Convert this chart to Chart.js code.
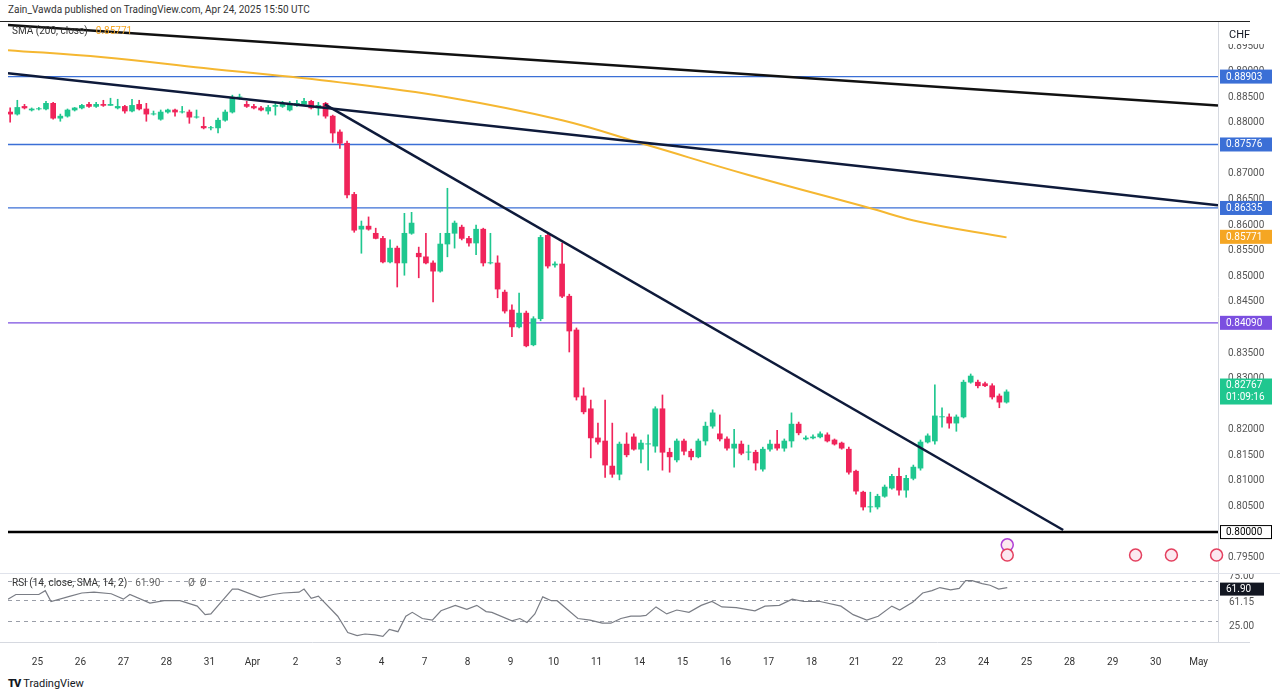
<!DOCTYPE html>
<html>
<head>
<meta charset="utf-8">
<script src="https://cdn.jsdelivr.net/npm/chart.js@4.4.1/dist/chart.umd.min.js"></script>
<style>
  body { margin: 0; background: #fff; font-family: Roboto, "DejaVu Sans", sans-serif; }
  #wrap { position: relative; width: 1280px; height: 698px; overflow: hidden; }
  #head { position: absolute; left: 8px; top: 4px; font-size: 10px; color: #333; }
  #topRule { position: absolute; left: 0; top: 21px; width: 1250px; height: 1px; background: #222; }
  #priceBox { position: absolute; left: 0; top: 22px; width: 1280px; height: 551px; }
  #rsiBox { position: absolute; left: 0; top: 573px; width: 1280px; height: 100px; border-top: 1px solid #e0e3eb; }
  #logo { position: absolute; left: 8px; top: 677px; font-size: 11px; color: #131722; }
  #logo b { font-weight: 900; letter-spacing: -1px; margin-right: 3px; }
</style>
</head>
<body>
<div id="wrap">
  <div id="head">Zain_Vawda published on TradingView.com, Apr 24, 2025 15:50 UTC</div>
  <div id="topRule"></div>
  <div id="priceBox"><canvas id="priceChart"></canvas></div>
  <div id="rsiBox"><canvas id="rsiChart"></canvas></div>
  <div id="logo"><b>TV</b>TradingView</div>
</div>
<script>
// 4h candles, USD/CHF, Mar 24 - Apr 24 2025
const opens = [
  0.8821,0.8817,0.8832,0.8825,0.8827,0.8827,0.8838,0.8809,0.8813,0.8825,
  0.8829,0.8836,0.8832,0.8836,0.8834,0.8829,0.8832,0.8823,0.8836,0.8827,
  0.8817,0.8807,0.8821,0.8825,0.8821,0.8821,0.8811,0.8793,0.8790,0.8790,
  0.8805,0.8821,0.8850,0.8836,0.8832,0.8829,0.8823,0.8832,0.8832,0.8825,
  0.8834,0.8836,0.8842,0.8829,0.8838,0.8813,0.8782,0.8760,0.8660,0.8592,
  0.8598,0.8584,0.8574,0.8528,0.8555,0.8526,0.8584,0.8545,0.8538,0.8526,
  0.8510,0.8563,0.8584,0.8596,0.8574,0.8565,0.8592,0.8526,0.8526,0.8469,
  0.8434,0.8401,0.8428,0.8366,0.8417,0.8580,0.8522,0.8524,0.8461,0.8395,
  0.8266,0.8241,0.8184,0.8178,0.8129,0.8113,0.8172,0.8186,0.8162,0.8172,
  0.8168,0.8241,0.8156,0.8141,0.8178,0.8158,0.8147,0.8178,0.8207,0.8192,
  0.8182,0.8164,0.8172,0.8156,0.8156,0.8123,0.8162,0.8172,0.8164,0.8178,
  0.8211,0.8182,0.8184,0.8186,0.8190,0.8180,0.8174,0.8162,0.8119,0.8078,
  0.8049,0.8049,0.8070,0.8086,0.8109,0.8082,0.8105,0.8125,0.8176,0.8178,
  0.8225,0.8225,0.8213,0.8225,0.8293,0.8293,0.8290,0.8286,0.8266,0.8254
];
const closes = [
  0.8817,0.8830,0.8829,0.8827,0.8827,0.8838,0.8809,0.8813,0.8825,0.8829,
  0.8834,0.8832,0.8836,0.8834,0.8836,0.8832,0.8823,0.8834,0.8827,0.8817,
  0.8817,0.8821,0.8825,0.8821,0.8821,0.8811,0.8811,0.8790,0.8790,0.8805,
  0.8821,0.8850,0.8850,0.8832,0.8829,0.8825,0.8830,0.8834,0.8838,0.8836,
  0.8838,0.8842,0.8829,0.8834,0.8813,0.8780,0.8760,0.8659,0.8590,0.8598,
  0.8592,0.8574,0.8528,0.8555,0.8526,0.8584,0.8604,0.8538,0.8526,0.8510,
  0.8563,0.8584,0.8604,0.8574,0.8565,0.8592,0.8526,0.8526,0.8475,0.8432,
  0.8401,0.8428,0.8364,0.8417,0.8576,0.8520,0.8524,0.8461,0.8393,0.8264,
  0.8235,0.8184,0.8176,0.8131,0.8113,0.8172,0.8151,0.8162,0.8174,0.8172,
  0.8241,0.8156,0.8147,0.8178,0.8158,0.8147,0.8178,0.8207,0.8233,0.8182,
  0.8164,0.8172,0.8154,0.8156,0.8135,0.8162,0.8172,0.8164,0.8178,0.8211,
  0.8194,0.8184,0.8186,0.8192,0.8178,0.8172,0.8164,0.8117,0.8080,0.8049,
  0.8049,0.8070,0.8088,0.8109,0.8082,0.8105,0.8127,0.8176,0.8188,0.8227,
  0.8225,0.8213,0.8225,0.8293,0.8305,0.8286,0.8286,0.8264,0.8254,0.8274
];
const highs = [
  0.8829,0.8844,0.8836,0.8829,0.8830,0.8842,0.8840,0.8817,0.8827,0.8830,
  0.8836,0.8840,0.8840,0.8844,0.8848,0.8846,0.8834,0.8846,0.8844,0.8838,
  0.8823,0.8825,0.8827,0.8827,0.8832,0.8825,0.8825,0.8811,0.8793,0.8809,
  0.8825,0.8854,0.8856,0.8842,0.8836,0.8832,0.8834,0.8840,0.8842,0.8842,
  0.8844,0.8848,0.8844,0.8840,0.8840,0.8815,0.8786,0.8764,0.8664,0.8608,
  0.8616,0.8594,0.8578,0.8571,0.8559,0.8623,0.8625,0.8557,0.8584,0.8530,
  0.8584,0.8672,0.8608,0.8600,0.8578,0.8600,0.8594,0.8584,0.8540,0.8473,
  0.8444,0.8467,0.8432,0.8421,0.8580,0.8584,0.8528,0.8565,0.8465,0.8399,
  0.8282,0.8258,0.8213,0.8258,0.8213,0.8176,0.8194,0.8192,0.8180,0.8190,
  0.8245,0.8268,0.8164,0.8182,0.8182,0.8162,0.8182,0.8215,0.8239,0.8229,
  0.8186,0.8201,0.8178,0.8170,0.8160,0.8166,0.8180,0.8199,0.8182,0.8233,
  0.8215,0.8188,0.8190,0.8196,0.8194,0.8182,0.8176,0.8166,0.8121,0.8080,
  0.8078,0.8074,0.8092,0.8113,0.8125,0.8111,0.8131,0.8180,0.8192,0.8288,
  0.8243,0.8231,0.8229,0.8297,0.8309,0.8297,0.8293,0.8290,0.8270,0.8278
];
const lows = [
  0.8801,0.8815,0.8827,0.8823,0.8825,0.8825,0.8807,0.8803,0.8811,0.8823,
  0.8827,0.8830,0.8830,0.8832,0.8834,0.8827,0.8819,0.8821,0.8825,0.8803,
  0.8815,0.8805,0.8819,0.8813,0.8819,0.8799,0.8809,0.8788,0.8786,0.8780,
  0.8803,0.8819,0.8846,0.8830,0.8827,0.8823,0.8817,0.8815,0.8830,0.8823,
  0.8832,0.8834,0.8827,0.8815,0.8809,0.8762,0.8750,0.8653,0.8586,0.8545,
  0.8590,0.8573,0.8526,0.8526,0.8479,0.8502,0.8582,0.8497,0.8524,0.8450,
  0.8508,0.8538,0.8555,0.8571,0.8559,0.8542,0.8520,0.8524,0.8458,0.8428,
  0.8382,0.8399,0.8362,0.8364,0.8413,0.8516,0.8518,0.8458,0.8352,0.8258,
  0.8231,0.8145,0.8172,0.8107,0.8107,0.8102,0.8147,0.8160,0.8135,0.8121,
  0.8156,0.8121,0.8117,0.8137,0.8151,0.8141,0.8145,0.8170,0.8203,0.8178,
  0.8160,0.8127,0.8151,0.8141,0.8121,0.8119,0.8158,0.8160,0.8158,0.8166,
  0.8190,0.8180,0.8182,0.8184,0.8176,0.8170,0.8162,0.8113,0.8074,0.8043,
  0.8039,0.8045,0.8068,0.8084,0.8072,0.8068,0.8102,0.8121,0.8174,0.8172,
  0.8205,0.8203,0.8197,0.8223,0.8291,0.8282,0.8284,0.8260,0.8243,0.8252
];

const smaIdx = [-0.3, 13, 27, 46, 61, 77, 89, 103, 120, 127, 139];
const smaVal = [0.8942, 0.8928, 0.8907, 0.8879, 0.8850, 0.8805, 0.8756, 0.8698, 0.8633, 0.8606, 0.8576];

// RSI(14)
const rsiIdx = [-0.3,0.8,4.0,4.9,5.7,8.4,10.0,11.7,14.1,15.8,16.7,19.5,21.5,23.7,26.1,27.2,28.0,31.0,31.8,34.9,
  36.7,38.1,40.3,41.0,42.0,43.0,45.7,47.1,48.4,49.5,50.9,52.0,52.9,54.1,55.2,56.1,57.5,58.9,60.1,62.1,
  63.7,65.1,66.4,67.2,70.0,71.1,72.1,73.2,74.3,75.5,76.3,79.2,80.9,82.6,83.8,85.2,86.6,87.9,88.7,90.1,
  91.6,93.0,94.7,96.4,97.9,99.3,101.3,103.9,105.3,107.3,109.1,110.7,113.0,115.9,117.6,119.5,121.1,123.0,124.1,125.9,
  127.3,128.6,129.7,131.2,132.4,133.3,134.2,135.6,136.7,137.9,139.1];
const rsiVal = [51,57,57,62,48,55,59,60,58,51,57,46,49,49,42,31,32,64,64,53,
  57,59,60,64,52,55,29,8,4,6,5,3,12,9,29,34,26,24,36,43,
  38,43,35,34,23,26,21,32,54,49,49,26,24,20,20,26,29,29,30,41,
  32,37,34,43,48,41,40,36,42,43,51,48,48,42,31,24,29,42,37,47,
  59,62,66,63,65,75,75,71,69,64,66];

// drawn levels and trendlines
const levels = [0.88903, 0.87576, 0.86335, 0.84090, 0.80000];
const levelColors = ['#3b6fd6', '#3b6fd6', '#3b6fd6', '#7b4fe0', '#000000'];
const trendLines = [
  { from: [-0.3, 0.8991], to: [168.5, 0.8834], color: '#111111' },
  { from: [-0.3, 0.8897], to: [168.5, 0.8639], color: '#0e1a3a' },
  { from: [43.9, 0.8836], to: [146.9, 0.8004], color: '#0e1a3a' }
];
const priceTicks = [0.895, 0.890, 0.885, 0.880, 0.870, 0.865, 0.860, 0.855, 0.850, 0.845,
  0.835, 0.830, 0.820, 0.815, 0.810, 0.805, 0.795];
const dayLabels = ['25','26','27','28','31','Apr','2','3','4','7','8','9','10','11','14','15','16','17','18',
  '21','22','23','24','25','28','29','30','May'];

const UP = '#1fc78f', DOWN = '#f0245a';
const X_MIN = -0.3, X_MAX = 168.5;
const FONT = 'Roboto, "DejaVu Sans", sans-serif';

const idx = closes.map((c, i) => i);
const colors = idx.map(i => closes[i] >= opens[i] ? UP : DOWN);
const wicks = idx.map(i => ({ x: i, y: [lows[i], highs[i]] }));
const bodies = idx.map(i => {
  let lo = Math.min(opens[i], closes[i]), hi = Math.max(opens[i], closes[i]);
  if (hi - lo < 0.00006) hi = lo + 0.00006;
  return { x: i, y: [lo, hi] };
});

function box(ctx, x, y, w, h, bg, fg, text, border) {
  ctx.fillStyle = bg;
  ctx.fillRect(x, y - h / 2, w, h);
  if (border) { ctx.strokeStyle = border; ctx.lineWidth = 1; ctx.strokeRect(x + 0.5, y - h / 2 + 0.5, w - 1, h - 1); }
  ctx.fillStyle = fg;
  ctx.textAlign = 'left';
  ctx.textBaseline = 'middle';
  ctx.fillText(text, x + 6, y + 0.5);
}

// legend line: pieces of [text, colour] placed one after another
function legend(ctx, x, y, parts) {
  ctx.textAlign = 'left'; ctx.textBaseline = 'middle';
  parts.forEach(p => {
    ctx.fillStyle = p[1];
    ctx.fillText(p[0], x, y);
    x += ctx.measureText(p[0]).width + 8;
  });
}

const priceOverlay = {
  id: 'priceOverlay',
  beforeDatasetsDraw(chart) {
    const { ctx, chartArea: a, scales: { y } } = chart;
    ctx.save();
    levels.forEach((v, k) => {
      ctx.strokeStyle = levelColors[k];
      ctx.lineWidth = v === 0.8 ? 2.5 : 1.3;
      ctx.beginPath();
      ctx.moveTo(a.left, y.getPixelForValue(v));
      ctx.lineTo(a.right, y.getPixelForValue(v));
      ctx.stroke();
    });
    ctx.restore();
  },
  afterDraw(chart) {
    const { ctx, chartArea: a, scales: { x, y } } = chart;
    ctx.save();
    ctx.strokeStyle = '#d6d9e0';
    ctx.beginPath(); ctx.moveTo(a.right + 0.5, 0); ctx.lineTo(a.right + 0.5, chart.height); ctx.stroke();
    ctx.font = '10px ' + FONT;
    ctx.fillStyle = '#555';
    ctx.textAlign = 'left'; ctx.textBaseline = 'middle';
    priceTicks.forEach(v => ctx.fillText(v.toFixed(5), a.right + 10, y.getPixelForValue(v)));
    ctx.fillStyle = '#fff';
    ctx.fillRect(a.right + 4, 4, 50, 18);
    ctx.fillStyle = '#131722';
    ctx.font = '11px ' + FONT;
    ctx.fillText('CHF', a.right + 11, 13);
    ctx.font = '10px ' + FONT;
    box(ctx, a.right + 2, y.getPixelForValue(0.88903), 52, 14, '#3b6fd6', '#fff', '0.88903');
    box(ctx, a.right + 2, y.getPixelForValue(0.87576), 52, 14, '#3b6fd6', '#fff', '0.87576');
    box(ctx, a.right + 2, y.getPixelForValue(0.86335), 52, 14, '#3b6fd6', '#fff', '0.86335');
    box(ctx, a.right + 2, y.getPixelForValue(0.85771), 52, 14, '#f5a623', '#fff', '0.85771');
    box(ctx, a.right + 2, y.getPixelForValue(0.84090), 52, 14, '#7b4fe0', '#fff', '0.84090');
    const cy = y.getPixelForValue(0.82767);
    ctx.fillStyle = UP; ctx.fillRect(a.right + 2, cy - 12, 52, 26);
    ctx.fillStyle = '#fff';
    ctx.fillText('0.82767', a.right + 8, cy - 5);
    ctx.fillText('01:09:16', a.right + 8, cy + 7);
    box(ctx, a.right + 2, y.getPixelForValue(0.80000), 52, 14, '#fff', '#000', '0.80000', '#000');
    // event markers
    [[139.1, 0.7975, '#b03fd6'], [139.1, 0.7955, '#e4405f'], [157, 0.7955, '#e4405f'],
     [162, 0.7955, '#e4405f'], [168.3, 0.7955, '#e4405f']].forEach(m => {
      ctx.beginPath();
      ctx.arc(x.getPixelForValue(m[0]), y.getPixelForValue(m[1]), 6, 0, Math.PI * 2);
      ctx.strokeStyle = m[2]; ctx.lineWidth = 1.5; ctx.fillStyle = '#fbe9f0';
      ctx.fill(); ctx.stroke();
    });
    ctx.font = '10px ' + FONT;
    legend(ctx, 12, 9, [['SMA (200, close)', '#333'], ['0.85771', '#f5a623']]);
    ctx.restore();
  }
};

new Chart(document.getElementById('priceChart'), {
  type: 'bar',
  data: {
    datasets: [
      { data: wicks, backgroundColor: colors, barThickness: 1, grouped: false, order: 3 },
      { data: bodies, backgroundColor: colors, barThickness: 5, grouped: false, order: 2 },
      { type: 'line', data: smaIdx.map((v, i) => ({ x: v, y: smaVal[i] })), borderColor: '#f5b731',
        borderWidth: 2, pointRadius: 0, tension: 0.4, order: 1 },
      ...trendLines.map(t => ({ type: 'line', data: [{ x: t.from[0], y: t.from[1] }, { x: t.to[0], y: t.to[1] }],
        borderColor: t.color, borderWidth: 2.5, pointRadius: 0, order: 0 }))
    ]
  },
  options: {
    responsive: true, maintainAspectRatio: false, animation: false,
    layout: { padding: { left: 8, right: 62, top: 0, bottom: 0 } },
    plugins: { legend: { display: false }, tooltip: { enabled: false } },
    scales: {
      x: { type: 'linear', min: X_MIN, max: X_MAX, offset: false, display: false },
      y: { min: 0.7920, max: 0.8997, display: false }
    }
  },
  plugins: [priceOverlay]
});

const rsiOverlay = {
  id: 'rsiOverlay',
  beforeDatasetsDraw(chart) {
    const { ctx, chartArea: a, scales: { y } } = chart;
    ctx.save();
    ctx.strokeStyle = '#9a9ea8'; ctx.lineWidth = 1; ctx.setLineDash([4, 4]);
    [75, 50, 23].forEach(v => {
      const py = Math.round(y.getPixelForValue(v)) + 0.5;
      ctx.beginPath(); ctx.moveTo(a.left, py); ctx.lineTo(a.right, py); ctx.stroke();
    });
    ctx.restore();
  },
  afterDraw(chart) {
    const { ctx, chartArea: a, scales: { y } } = chart;
    ctx.save();
    ctx.strokeStyle = '#d6d9e0';
    ctx.beginPath(); ctx.moveTo(a.right + 0.5, 0); ctx.lineTo(a.right + 0.5, a.bottom); ctx.stroke();
    ctx.beginPath(); ctx.moveTo(0, a.bottom + 0.5); ctx.lineTo(1250, a.bottom + 0.5); ctx.stroke();
    ctx.font = '10px ' + FONT;
    ctx.fillStyle = '#555'; ctx.textBaseline = 'middle'; ctx.textAlign = 'left';
    ctx.fillText('75.00', a.right + 11, y.getPixelForValue(80));
    ctx.fillText('61.15', a.right + 11, y.getPixelForValue(47));
    ctx.fillText('25.00', a.right + 11, y.getPixelForValue(16));
    box(ctx, a.right + 2, y.getPixelForValue(64), 44, 13, '#131722', '#fff', '61.90');
    legend(ctx, 12, 9, [['RSI (14, close, SMA, 14, 2)', '#333'], ['61.90', '#666'], ['', '#666']]);
    ctx.fillStyle = '#666';
    ctx.fillText('\u00d8  \u00d8', 188, 9);
    ctx.restore();
  }
};

new Chart(document.getElementById('rsiChart'), {
  type: 'line',
  data: {
    datasets: [{ data: rsiIdx.map((v, i) => ({ x: v, y: rsiVal[i] })), borderColor: '#7a7d85',
      borderWidth: 1.2, pointRadius: 0, tension: 0 }]
  },
  options: {
    responsive: true, maintainAspectRatio: false, animation: false,
    layout: { padding: { left: 8, right: 62, top: 0, bottom: 0 } },
    plugins: { legend: { display: false }, tooltip: { enabled: false } },
    scales: {
      x: {
        type: 'linear', min: X_MIN, max: X_MAX,
        afterBuildTicks: s => { s.ticks = dayLabels.map((d, k) => ({ value: 3.8 + 6 * k })); },
        ticks: { autoSkip: false, maxRotation: 0, padding: 6, color: '#333', font: { size: 10, family: FONT },
          callback: (v, k) => dayLabels[k] },
        grid: { display: false }, border: { display: false }
      },
      y: { min: -4.3, max: 83.5, display: false }
    }
  },
  plugins: [rsiOverlay]
});
</script>
</body>
</html>
